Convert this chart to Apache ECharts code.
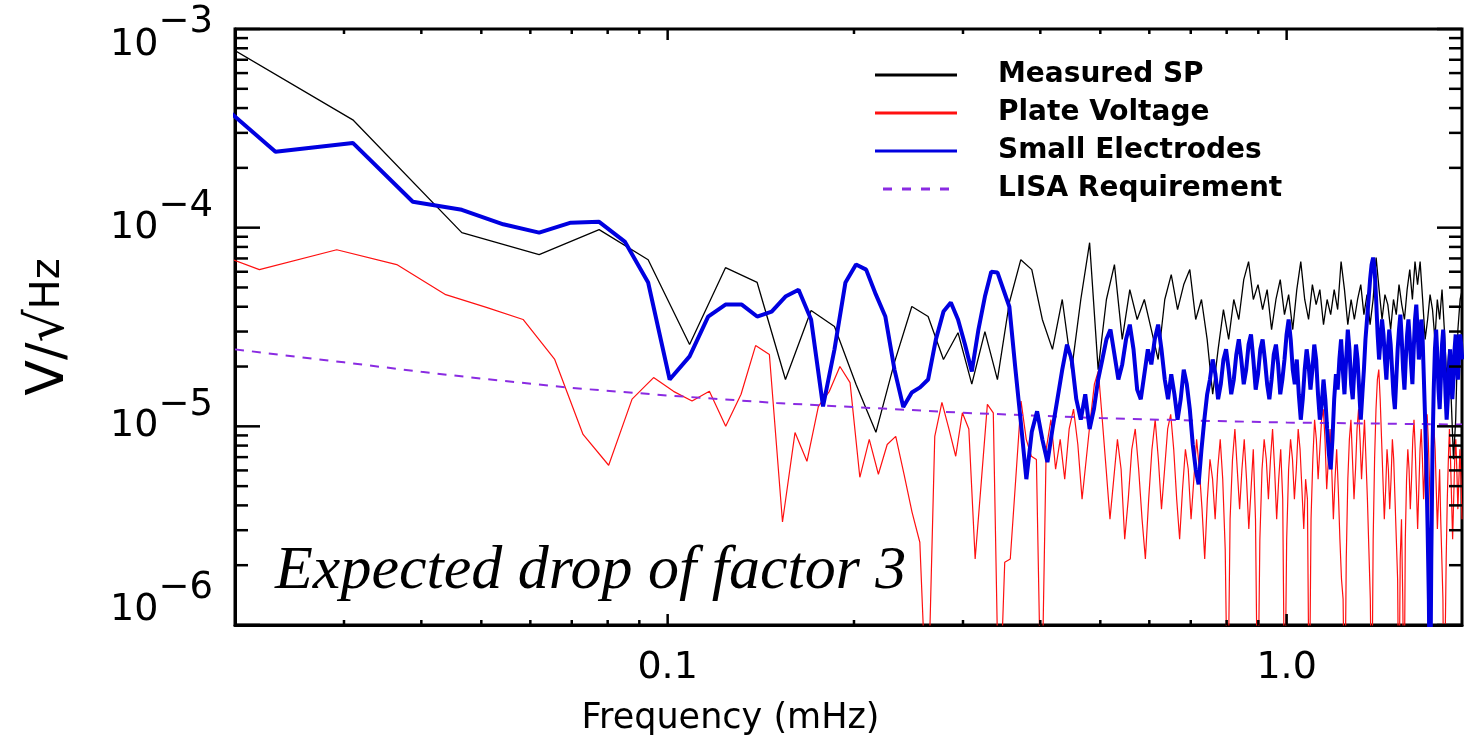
<!DOCTYPE html>
<html><head><meta charset="utf-8">
<script src="https://cdn.jsdelivr.net/npm/echarts/dist/echarts.min.js"></script>
<style>html,body{margin:0;padding:0;background:#fff;overflow:hidden}#c{width:1467px;height:755px}</style>
</head><body><div id="c"></div>
<script>
// ---- data (frequency in mHz = bin index * bin width) ----
const blackBin = 0.0155, blackFirst = 1;   // Measured SP
const blackVals = [1.24e-3,3.49e-4,9.44e-5,7.31e-5,9.77e-5,6.90e-5,2.58e-5,6.29e-5,5.30e-5,1.72e-5,
  3.83e-5,3.18e-5,1.63e-5,9.33e-6,2.10e-5,4.01e-5,3.57e-5,2.17e-5,2.96e-5,1.63e-5,
  3.0e-5,1.72e-5,4.2e-5,6.9e-5,6.15e-5,3.45e-5,
  2.44e-5,4.35e-5,1.93e-5,4.35e-5,8.4e-5,1.93e-5,4.35e-5,6.52e-5,2.74e-5,4.88e-5,
  3.45e-5,4.35e-5,3.07e-5,2.17e-5,4.35e-5,5.8e-5,3.87e-5,5.17e-5,6.15e-5,3.45e-5,
  4.35e-5,2.74e-5,1.45e-5,2.44e-5,3.87e-5,2.74e-5,4.35e-5,3.45e-5,5.48e-5,6.75e-5,
  4.35e-5,5.17e-5,3.87e-5,4.88e-5,3.07e-5,4.35e-5,5.48e-5,3.65e-5,4.6e-5,3.07e-5,
  4.88e-5,6.75e-5,4.35e-5,3.45e-5,5.17e-5,4.1e-5,4.88e-5,3.25e-5,4.35e-5,3.65e-5,
  4.88e-5,3.87e-5,6.75e-5,4.88e-5,3.25e-5,4.35e-5,3.45e-5,4.35e-5,5.17e-5,3.65e-5,
  4.6e-5,3.25e-5,4.35e-5,7.07e-5,4.88e-5,3.45e-5,4.6e-5,4.1e-5,3.07e-5,4.35e-5,
  3.65e-5,5.17e-5,4.1e-5,3.45e-5,4.88e-5,6.15e-5,4.35e-5,6.75e-5,5.17e-5,6.75e-5,
  4.35e-5,2.74e-5,3.45e-5,4.6e-5,3.87e-5,2.74e-5,4.35e-5,3.45e-5,4.88e-5,3.07e-5,
  1.72e-5,2.44e-5,1.37e-5,6.83e-6,1.08e-5,3.07e-5,4.35e-5,4.88e-5];
const redBin = 0.0073, redFirst = 2;       // Plate Voltage
const redVals = [9.9e-5,6.15e-5,7.74e-5,6.52e-5,4.6e-5,3.96e-5,3.45e-5,2.17e-5,9.1e-6,6.37e-6,
  1.37e-5,1.76e-5,1.5e-5,1.34e-5,1.5e-5,1.0e-5,1.45e-5,2.55e-5,2.3e-5,3.3e-6,
  9.3e-6,6.67e-6,1.26e-5,1.5e-5,2.0e-5,1.66e-5,5.54e-6,8.6e-6,5.74e-6,8.1e-6,
  8.9e-6,5.74e-6,3.7e-6,2.61e-6,3e-7,8.9e-6,1.32e-5,9.7e-6,7.07e-6,1.17e-5,
  9.7e-6,2.15e-6,5.3e-6,1.29e-5,1.17e-5,3e-7,2.07e-6,2.15e-6,5.4e-6,1.34e-5,
  8.6e-6,7.07e-6,6.8e-6,3e-7,
  7.66e-6,1.08e-5,6.08e-6,8.6e-6,5.42e-6,9.7e-6,1.22e-5,8.1e-6,4.3e-6,6.83e-6,
  1.08e-5,1.63e-5,1.9e-5,1.08e-5,6.08e-6,3.41e-6,5.42e-6,8.6e-6,6.08e-6,2.7e-6,
  4.3e-6,7.66e-6,9.7e-6,6.08e-6,3.41e-6,2.15e-6,4.3e-6,7.66e-6,1.08e-5,6.83e-6,
  3.83e-6,6.08e-6,9.7e-6,1.15e-5,7.66e-6,4.3e-6,2.7e-6,4.82e-6,7.66e-6,6.08e-6,
  3.41e-6,5.42e-6,8.6e-6,6.08e-6,3.83e-6,2.15e-6,4.3e-6,6.83e-6,5.42e-6,3.41e-6,
  6.08e-6,8.6e-6,5.42e-6,2.41e-6,3e-7,3.41e-6,6.83e-6,9.7e-6,6.08e-6,3.83e-6,
  6.08e-6,8.6e-6,5.42e-6,3.04e-6,4.82e-6,7.66e-6,3.41e-6,3e-7,2.7e-6,6.08e-6,
  8.6e-6,6.83e-6,4.3e-6,6.83e-6,9.7e-6,6.08e-6,3.41e-6,5.42e-6,7.66e-6,4.3e-6,
  3e-7,2.7e-6,6.08e-6,8.6e-6,6.83e-6,4.3e-6,6.08e-6,9.7e-6,7.66e-6,4.82e-6,
  3.04e-6,5.42e-6,4.3e-6,3e-7,3.41e-6,6.83e-6,1.08e-5,8.6e-6,5.42e-6,7.66e-6,
  1.08e-5,1.22e-5,8.6e-6,4.82e-6,6.83e-6,9.7e-6,6.08e-6,3.41e-6,5.42e-6,7.66e-6,
  4.82e-6,2.7e-6,1.7e-6,1.35e-6,3e-7,2.15e-6,5.42e-6,8.6e-6,1.08e-5,6.83e-6,
  4.3e-6,6.08e-6,9.7e-6,1.22e-5,8.6e-6,5.42e-6,7.66e-6,1.08e-5,6.83e-6,4.3e-6,
  2.41e-6,1.35e-6,3e-7,2.7e-6,6.83e-6,1.22e-5,1.72e-5,1.93e-5,1.37e-5,8.6e-6,
  5.42e-6,3.41e-6,4.82e-6,7.66e-6,6.08e-6,3.83e-6,5.42e-6,8.6e-6,6.83e-6,4.3e-6,
  2.7e-6,1.7e-6,3e-7,2.15e-6,3.41e-6,1.35e-6,3e-7,2.7e-6,5.42e-6,7.66e-6,
  6.08e-6,3.83e-6,5.42e-6,8.6e-6,1.08e-5,7.66e-6,4.82e-6,3.04e-6,4.82e-6,7.66e-6,
  9.7e-6,6.83e-6,4.3e-6,6.08e-6,9.7e-6,1.15e-5,8.6e-6,5.42e-6,3.41e-6,4.82e-6,
  6.83e-6,9.7e-6,7.66e-6,4.82e-6,3.04e-6,4.3e-6,6.08e-6,3.41e-6,2.15e-6,1.35e-6,
  3e-7,3e-7,2.15e-6,4.3e-6,6.83e-6,9.7e-6,6.83e-6,4.3e-6,2.7e-6,4.3e-6,
  6.83e-6,8.6e-6,6.08e-6,3.83e-6,5.42e-6,7.66e-6,5.42e-6,3.41e-6];
const blueBin = 0.00775, blueFirst = 2;    // Small Electrodes
const blueVals = [7.2e-4,2.41e-4,2.67e-4,1.35e-4,1.23e-4,1.04e-4,9.44e-5,1.06e-4,1.07e-4,8.51e-5,
  5.30e-5,1.72e-5,2.25e-5,3.57e-5,4.10e-5,4.10e-5,3.57e-5,3.78e-5,4.50e-5,4.87e-5,
  3.45e-5,1.26e-5,2.44e-5,5.30e-5,6.52e-5,6.15e-5,4.6e-5,3.57e-5,1.93e-5,1.25e-5,
  1.48e-5,1.57e-5,1.72e-5,2.74e-5,3.78e-5,4.2e-5,3.45e-5,2.58e-5,1.89e-5,3.07e-5,
  4.5e-5,6.0e-5,5.95e-5,4.87e-5,4.0e-5,2.0e-5,1.05e-5,5.42e-6,9.4e-6,1.19e-5,
  8.6e-6,6.6e-6,
  9.7e-6,1.37e-5,1.93e-5,2.58e-5,2.17e-5,1.37e-5,1.08e-5,1.45e-5,9.7e-6,1.22e-5,
  1.72e-5,2.17e-5,2.74e-5,3.07e-5,2.3e-5,1.72e-5,2.05e-5,2.74e-5,3.25e-5,2.44e-5,
  1.53e-5,1.37e-5,1.83e-5,2.44e-5,2.05e-5,2.74e-5,3.25e-5,2.44e-5,1.72e-5,1.37e-5,
  1.83e-5,1.45e-5,1.08e-5,1.37e-5,1.93e-5,1.63e-5,1.22e-5,8.1e-6,6.08e-6,5.1e-6,
  7.66e-6,1.08e-5,1.45e-5,1.72e-5,2.17e-5,1.83e-5,1.37e-5,1.63e-5,2.17e-5,2.44e-5,
  1.93e-5,1.45e-5,1.72e-5,2.3e-5,2.74e-5,2.17e-5,1.63e-5,1.93e-5,2.58e-5,2.9e-5,
  2.17e-5,1.53e-5,1.83e-5,2.44e-5,2.74e-5,2.17e-5,1.63e-5,1.37e-5,1.72e-5,2.3e-5,
  2.58e-5,2.05e-5,1.45e-5,1.72e-5,2.17e-5,2.9e-5,3.45e-5,2.74e-5,1.93e-5,1.63e-5,
  2.17e-5,1.45e-5,1.08e-5,1.37e-5,1.93e-5,2.44e-5,2.05e-5,1.53e-5,1.93e-5,2.58e-5,
  2.17e-5,1.45e-5,1.08e-5,1.29e-5,1.72e-5,1.37e-5,9.7e-6,7.23e-6,6.08e-6,8.6e-6,
  1.37e-5,1.83e-5,1.53e-5,2.17e-5,2.74e-5,1.93e-5,1.45e-5,2.17e-5,3.07e-5,2.44e-5,
  1.63e-5,1.37e-5,1.93e-5,2.58e-5,2.17e-5,1.53e-5,1.08e-5,1.45e-5,1.93e-5,2.74e-5,
  3.45e-5,4.35e-5,5.48e-5,6.52e-5,7.07e-5,6.15e-5,4.35e-5,2.9e-5,2.17e-5,2.74e-5,
  3.45e-5,2.9e-5,2.17e-5,1.72e-5,2.44e-5,3.07e-5,2.58e-5,1.93e-5,1.45e-5,1.22e-5,
  1.72e-5,2.44e-5,3.07e-5,3.65e-5,2.74e-5,1.93e-5,1.53e-5,2.17e-5,2.9e-5,3.45e-5,
  2.74e-5,2.05e-5,1.63e-5,2.44e-5,3.45e-5,4.1e-5,3.07e-5,2.17e-5,2.58e-5,3.45e-5,
  2.74e-5,1.72e-5,1.08e-5,6.08e-6,3.04e-6,1.35e-6,3e-7,2.15e-6,7.66e-6,1.53e-5,
  2.44e-5,3.07e-5,2.3e-5,1.53e-5,1.22e-5,1.72e-5,2.58e-5,3.07e-5,2.17e-5,1.45e-5,
  1.08e-5,1.37e-5,1.93e-5,2.44e-5,1.83e-5,1.37e-5,1.72e-5,2.44e-5,2.9e-5,2.17e-5,
  1.72e-5,2.3e-5,2.9e-5,2.58e-5,2.17e-5];
const lisaFreq = [0.02,0.03,0.04,0.05,0.07,0.1,0.15,0.2,0.3,0.5,0.7,1.0,1.5,1.92];
const lisaVals = [2.44e-5,2.1e-5,1.88e-5,1.74e-5,1.56e-5,1.43e-5,1.31e-5,1.25e-5,1.17e-5,1.10e-5,1.07e-5,1.045e-5,1.03e-5,1.02e-5];

const xMajorTicks = [0.1, 1];
const xMinorTicks = [0.03,0.04,0.05,0.06,0.07,0.08,0.09,0.2,0.3,0.4,0.5,0.6,0.7,0.8,0.9];
const yMajorTicks = [1e-6,1e-5,1e-4,1e-3];
const yMinorTicks = [2e-6,3e-6,4e-6,5e-6,6e-6,7e-6,8e-6,9e-6,2e-5,3e-5,4e-5,5e-5,6e-5,7e-5,8e-5,9e-5,
  2e-4,3e-4,4e-4,5e-4,6e-4,7e-4,8e-4,9e-4];
const xTickLabels = [[0.1,'0.1'],[1,'1.0']];

function toPairs(first, bin, vals){ return vals.map((v,i)=>[+((first+i)*bin).toFixed(6), v]); }
const tickData = [];
xMajorTicks.forEach(v=>tickData.push([v,1e-5,0]));
xMinorTicks.forEach(v=>tickData.push([v,1e-5,1]));
yMajorTicks.forEach(v=>tickData.push([0.1,v,2]));
yMinorTicks.forEach(v=>tickData.push([0.1,v,3]));

const chart = echarts.init(document.getElementById('c'), null, {renderer:'canvas'});
const F = 'DejaVu Sans';
const dashIcon = 'path://M0,0h9v3h-9z M19,0h9v3h-9z M38,0h9v3h-9z M57,0h9v3h-9z';
chart.setOption({
  animation:false,
  backgroundColor:'#fff',
  grid:{left:235, top:29, width:1227, height:596, show:true, borderColor:'#000', borderWidth:3, backgroundColor:'transparent', outerBoundsMode:'none', containLabel:false},
  legend:{
    data:[{name:'Measured SP', icon:'rect'},{name:'Plate Voltage', icon:'rect'},{name:'Small Electrodes', icon:'rect'},{name:'LISA Requirement', icon:dashIcon}],
    orient:'vertical', left:875, top:61, padding:0, itemWidth:82, itemHeight:3, itemGap:10,
    symbolKeepAspect:true,
    selectedMode:false,
    textStyle:{fontFamily:F, fontWeight:'bold', fontSize:28, lineHeight:28, color:'#000', padding:[0,0,0,36]}
  },
  xAxis:{
    type:'log', logBase:10, min:0.02, max:1.92,
    axisLine:{show:true, lineStyle:{color:'#000', width:3}},
    axisTick:{show:false}, splitLine:{show:false}, minorTick:{show:false},
    axisLabel:{margin:24, color:'#000', fontFamily:F, fontSize:38,
      showMinLabel:true, showMaxLabel:true,
      formatter:v=>{ for (const [t,s] of xTickLabels) if (Math.abs(v-t)/t<1e-6) return s; return ''; }},
    name:'Frequency (mHz)', nameLocation:'middle', nameGap:76,
    nameTextStyle:{fontFamily:F, fontSize:35, color:'#000', padding:[0,236,0,0]}
  },
  yAxis:{
    type:'log', logBase:10, min:1e-6, max:1e-3,
    axisLine:{show:true, lineStyle:{color:'#000', width:3}},
    axisTick:{show:false}, splitLine:{show:false}, minorTick:{show:false},
    axisLabel:{margin:22, color:'#000',
      formatter:v=>{ const l=Math.log10(v), e=Math.round(l); if (Math.abs(l-e)>1e-6) return '';
        if (e===-3) return '{t|10}{st|\u2212'+(-e)+'}';
        if (e===-6) return '{b|10}{sb|\u2212'+(-e)+'}';
        return '{n|10}{s|\u2212'+(-e)+'}'; },
      rich:{
        n:{fontFamily:F, fontSize:38, color:'#000'},
        t:{fontFamily:F, fontSize:38, color:'#000', padding:[32,0,0,0]},
        b:{fontFamily:F, fontSize:38, color:'#000', padding:[0,0,30,0]},
        s:{fontFamily:F, fontSize:37, color:'#000', padding:[0,0,42,0]},
        st:{fontFamily:F, fontSize:37, color:'#000', padding:[0,0,14,0]},
        sb:{fontFamily:F, fontSize:37, color:'#000', padding:[0,0,74,0]}
      }},
    name:'{a|V/\u221A}{h|Hz}', nameLocation:'middle', nameRotate:90, nameGap:160,
    nameTextStyle:{rich:{a:{fontFamily:F, fontSize:52, color:'#000'}, h:{fontFamily:F, fontSize:40, color:'#000'}}}
  },
  graphic:[{type:'text', left:275, top:541, z:100,
    style:{text:'Expected drop of factor 3', font:'italic 62px "Liberation Serif"', fill:'#000'}}],
  series:[
    {name:'Plate Voltage', type:'line', data:toPairs(redFirst, redBin, redVals), symbol:'none', clip:true, z:2,
      lineStyle:{color:'#ff1010', width:1.2}, itemStyle:{color:'#ff1010'}},
    {name:'Measured SP', type:'line', data:toPairs(blackFirst, blackBin, blackVals), symbol:'none', clip:true, z:3,
      lineStyle:{color:'#000', width:1.3}, itemStyle:{color:'#000'}},
    {name:'LISA Requirement', type:'line', data:lisaFreq.map((f,i)=>[f,lisaVals[i]]), symbol:'none', clip:true, z:4,
      lineStyle:{color:'#8a2be2', width:2, type:[9,8]}, itemStyle:{color:'#8a2be2'}},
    {name:'Small Electrodes', type:'line', data:toPairs(blueFirst, blueBin, blueVals), symbol:'none', clip:true, z:5,
      lineStyle:{color:'#0000e0', width:4}, itemStyle:{color:'#0000e0'}},
    {name:'ticks', type:'custom', data:tickData, clip:false, z:10, silent:true,
      renderItem:(params, api)=>{
        const cs = params.coordSys; const kind = api.value(2);
        const p = api.coord([api.value(0), api.value(1)]);
        const st = {stroke:'#000', lineWidth:2.5};
        if (kind<2){ const L = kind===0?11:5; const yb = cs.y+cs.height, yt = cs.y;
          return {type:'group', children:[
            {type:'line', shape:{x1:p[0], y1:yb, x2:p[0], y2:yb-L}, style:st},
            {type:'line', shape:{x1:p[0], y1:yt, x2:p[0], y2:yt+L}, style:st}]};
        }
        const L = kind===2?25:13; const xl = cs.x, xr = cs.x+cs.width;
        return {type:'group', children:[
          {type:'line', shape:{x1:xl, y1:p[1], x2:xl+L, y2:p[1]}, style:st},
          {type:'line', shape:{x1:xr, y1:p[1], x2:xr-L, y2:p[1]}, style:st}]};
      }}
  ]
});
</script></body></html>
